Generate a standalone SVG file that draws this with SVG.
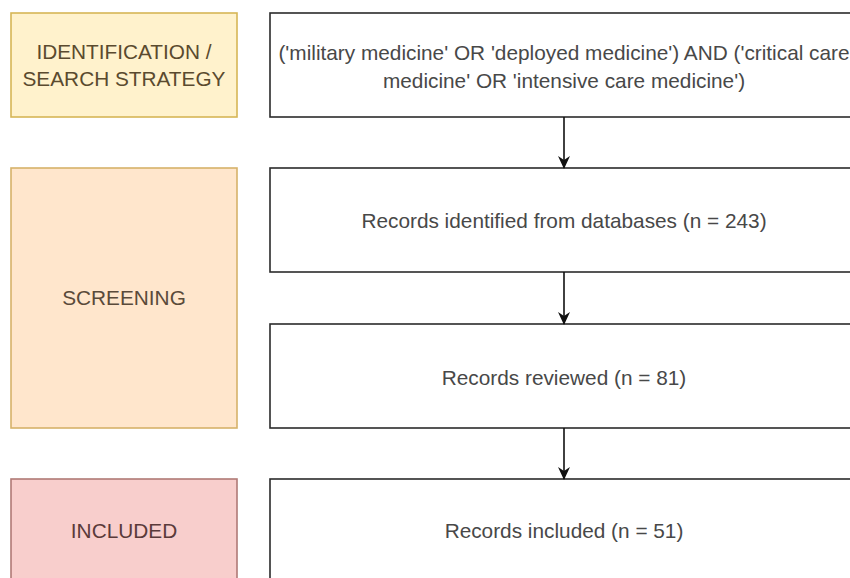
<svg xmlns="http://www.w3.org/2000/svg" width="850" height="578" viewBox="0 0 850 578">
<defs>
<marker id="ah" markerWidth="14" markerHeight="14" refX="12" refY="7" orient="auto" markerUnits="userSpaceOnUse">
<path d="M0,1 L13,7 L0,13 L4,7 Z" fill="#111"/>
</marker>
</defs>
<style>
.lbl{font-family:"Liberation Sans",Arial,sans-serif;font-size:20.8px;text-anchor:middle;dominant-baseline:central}
.box{fill:#ffffff;stroke:#2b2b2b;stroke-width:1.6}
.rt{fill:#484848}
.edge{stroke:#111;stroke-width:1.6;fill:none}
</style>
<rect width="850" height="578" fill="#ffffff"/>
<g id="stage-identification">
<rect x="11" y="13" width="226" height="104" fill="#fff2cc" stroke="#d6b656" stroke-width="1.6"/>
<text class="lbl" x="124" y="51" fill="#5a4a2e">IDENTIFICATION /</text>
<text class="lbl" x="124" y="78" fill="#5a4a2e">SEARCH STRATEGY</text>
</g>
<g id="stage-screening">
<rect x="11" y="168" width="226" height="260" fill="#ffe6cc" stroke="#d6b26a" stroke-width="1.6"/>
<text class="lbl" x="124" y="297" fill="#5a4a3a">SCREENING</text>
</g>
<g id="stage-included">
<rect x="11" y="479" width="226" height="120" fill="#f8cecc" stroke="#b07a76" stroke-width="1.6"/>
<text class="lbl" x="124" y="530" fill="#5a3a3a">INCLUDED</text>
</g>
<g id="search-strategy">
<rect class="box" x="270" y="13" width="600" height="104"/>
<text class="lbl rt" x="564" y="52">('military medicine' OR 'deployed medicine') AND ('critical care</text>
<text class="lbl rt" x="564" y="80">medicine' OR 'intensive care medicine')</text>
</g>
<g id="records-identified">
<rect class="box" x="270" y="168" width="600" height="104"/>
<text class="lbl rt" x="564" y="220">Records identified from databases (n = 243)</text>
</g>
<g id="records-reviewed">
<rect class="box" x="270" y="324" width="600" height="104"/>
<text class="lbl rt" x="564" y="377">Records reviewed (n = 81)</text>
</g>
<g id="records-included">
<rect class="box" x="270" y="479" width="600" height="120"/>
<text class="lbl rt" x="564" y="530">Records included (n = 51)</text>
</g>
<g id="connectors">
<line class="edge" x1="564" y1="117" x2="564" y2="168" marker-end="url(#ah)"/>
<line class="edge" x1="564" y1="272" x2="564" y2="324" marker-end="url(#ah)"/>
<line class="edge" x1="564" y1="428" x2="564" y2="479" marker-end="url(#ah)"/>
</g>
</svg>
